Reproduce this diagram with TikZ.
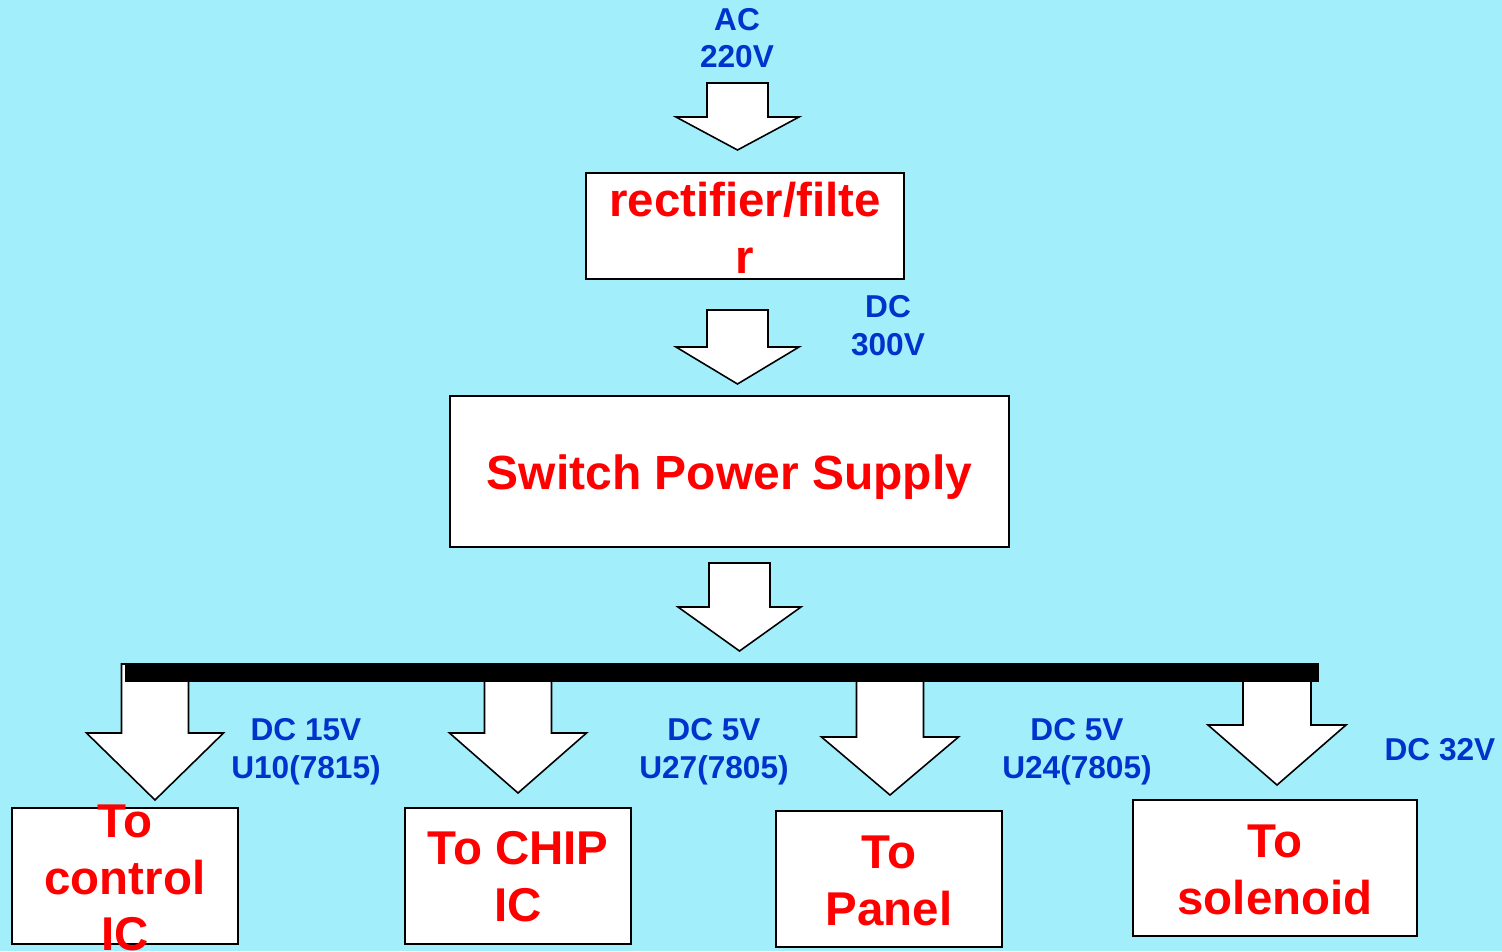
\documentclass[tikz,border=0pt]{standalone}
\usepackage{fontspec}
\setmainfont{Liberation Sans}
\usepackage{xcolor}
\usetikzlibrary{positioning}
\definecolor{bgcyan}{RGB}{162,238,251}
\definecolor{voltblue}{RGB}{0,51,204}
\definecolor{boxred}{RGB}{255,0,0}
% x, top, shoulder, tip, half shaft, half head
\newcommand{\blockarrow}[6]{%
  \filldraw[arrowbody] (#1-#5,#2) -- (#1+#5,#2) -- (#1+#5,#3) -- (#1+#6,#3)
    -- (#1,#4) -- (#1-#6,#3) -- (#1-#5,#3) -- cycle;}
\tikzset{
  arrowbody/.style={fill=white, draw=black, line width=0.9pt, line join=miter},
  stagebox/.style={draw=black, fill=white, line width=0.9pt, inner sep=0pt},
  stagetext/.style={text=boxred, align=center, inner sep=0pt,
    font=\bfseries\fontsize{27}{32.3}\selectfont},
  volttext/.style={text=voltblue, align=center, inner sep=0pt,
    font=\bfseries\fontsize{18}{21.5}\selectfont}
}
\begin{document}
\begin{tikzpicture}[x=0.02cm, y=-0.02cm]
\fill[bgcyan] (0,0) rectangle (1502,951);
\useasboundingbox (0,0) rectangle (1502,951);

%% block arrows
\blockarrow{737.5}{83}{117}{150}{30.5}{61.5}
\blockarrow{737.5}{310}{347}{384}{30.5}{61.5}
\blockarrow{739.5}{563}{607}{651}{30.5}{61.5}
\blockarrow{155}{664}{733}{800}{33.5}{68.5}
\blockarrow{518}{673}{733}{793}{33.5}{68.5}
\blockarrow{890}{676}{737}{795}{33.5}{68.5}
\blockarrow{1277}{680}{725}{785}{34}{69}

%% bus bar
\fill[black] (125,663) rectangle (1319,682);

%% boxes
\node[stagebox, minimum width=6.36cm, minimum height=2.12cm] (rect) at (745,226) {};
\node[stagebox, minimum width=11.18cm, minimum height=3.02cm] (sps) at (729.5,471.5) {};
\node[stagebox, minimum width=4.52cm, minimum height=2.72cm] (ctrl) at (125,876) {};
\node[stagebox, minimum width=4.52cm, minimum height=2.72cm] (chip) at (518,876) {};
\node[stagebox, minimum width=4.52cm, minimum height=2.72cm] (panel) at (889,879) {};
\node[stagebox, minimum width=5.68cm, minimum height=2.72cm] (sol) at (1275,868) {};

%% box texts
\node[stagetext] (rectlbl) at (745,228) {rectifier/filte\\r};
\node[stagetext, font=\bfseries\fontsize{27.3}{33}\selectfont] (spslbl) at (729.5,477) {Switch Power Supply};
\node[stagetext] (ctrllbl) at (125,878) {To\\control\\IC};
\node[stagetext] (chiplbl) at (518,877) {To CHIP\\IC};
\node[stagetext] (panellbl) at (889,881) {To\\Panel};
\node[stagetext] (sollbl) at (1275,870) {To\\solenoid};

%% voltages
\node[volttext] (ac) at (737,38) {AC\\220V};
\node[volttext] (dc300) at (888,326) {DC\\300V};
\node[volttext] (dc15) at (306,752) {DC 15V\\U10(7815)};
\node[volttext] (dc5a) at (714,752) {DC 5V\\U27(7805)};
\node[volttext] (dc5b) at (1077,752) {DC 5V\\U24(7805)};
\node[volttext] (dc32) at (1440,750) {DC 32V};
\end{tikzpicture}
\end{document}
